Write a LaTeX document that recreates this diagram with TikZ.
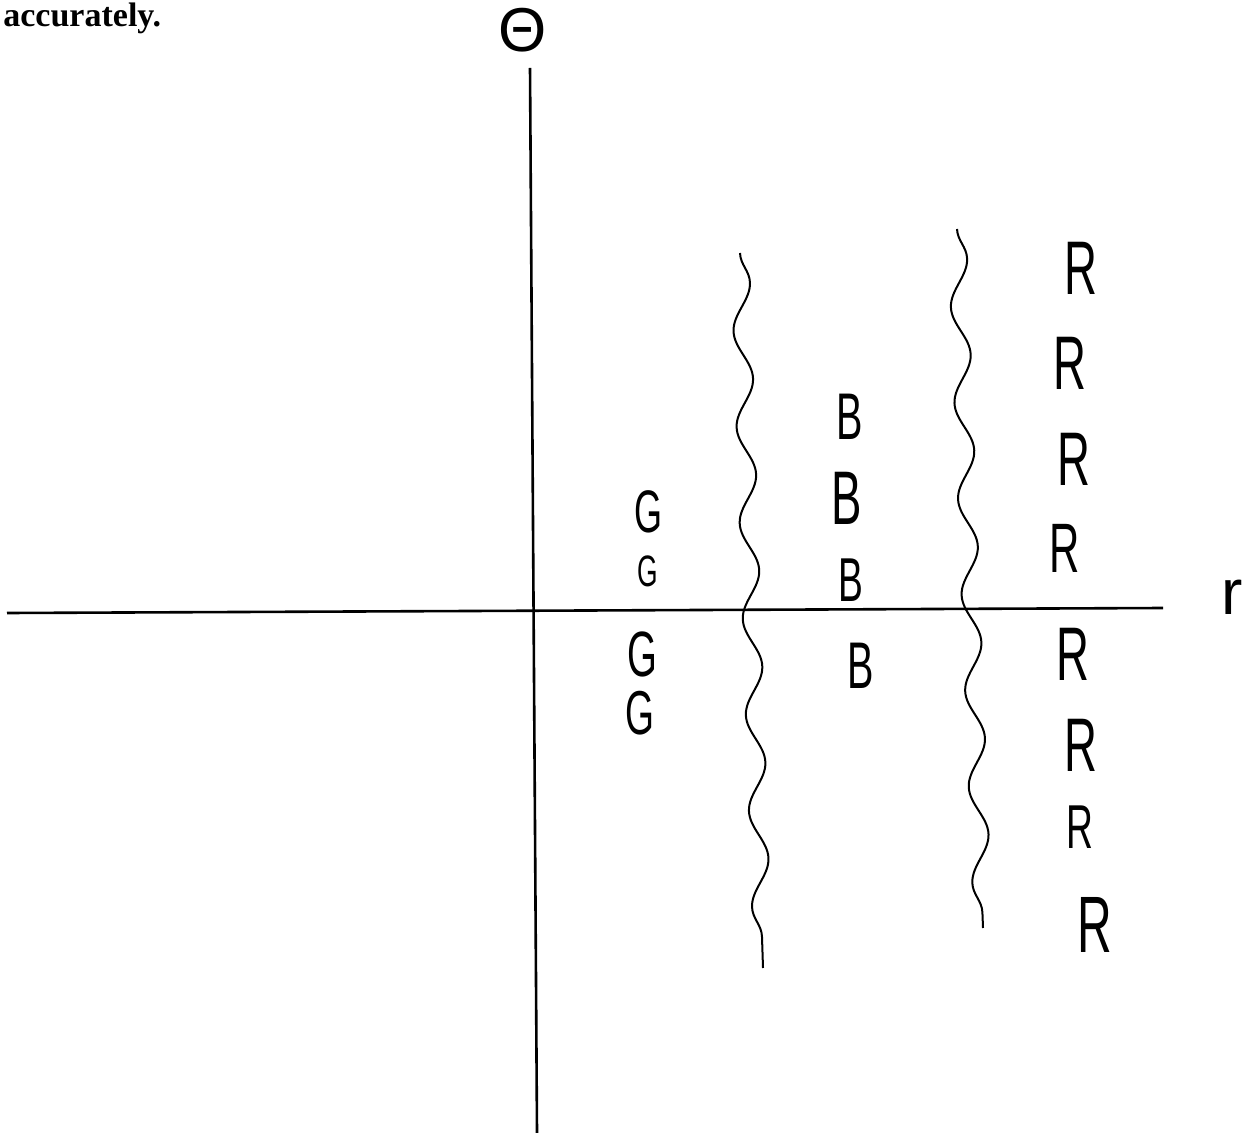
\documentclass[tikz,border=0pt]{standalone}
\usepackage{fontspec}
\setmainfont{Liberation Serif}
\newfontfamily\handfont[FakeStretch=0.6]{Liberation Sans}
\newfontfamily\plainsans{Liberation Sans}
\usetikzlibrary{decorations.pathmorphing}
\tikzset{
  axisline/.style={line width=1.3pt, black},
  wavyline/.style={line width=1pt, black, decorate,
    decoration={snake, segment length=48pt, amplitude=4.5pt}},
  hand/.style={inner sep=0pt, font=\handfont\fontsize{#1}{#1}\selectfont},
  plainlabel/.style={inner sep=0pt, font=\plainsans\fontsize{#1}{#1}\selectfont},
}
\begin{document}
\begin{tikzpicture}[x=0.5pt,y=-0.5pt]
\useasboundingbox (0,0) rectangle (1251,1133);
% heading fragment
\node[anchor=base west, inner sep=0pt, font=\bfseries\fontsize{17}{17}\selectfont] (acc) at (3,27) {accurately.};
% axes
\coordinate (xl) at (7,613);
\coordinate (xr) at (1163,608);
\coordinate (yt) at (530,68);
\coordinate (yb) at (537,1133);
\draw[axisline] (xl) -- (xr);
\draw[axisline] (yt) -- (yb);
\node[plainlabel=31] (theta) at (523,30) {Θ};
\node[plainlabel=32] (rlab) at (1232,597) {r};
% wavy boundaries
\coordinate (w1t) at (740,253);
\coordinate (w1b) at (763,968);
\coordinate (w2t) at (957,229);
\coordinate (w2b) at (983,928);
\draw[wavyline] (w1t) -- (w1b);
\draw[wavyline] (w2t) -- (w2b);
% G column
\node[hand=30] (g1) at (648,512) {G};
\node[hand=22] (g2) at (648,571) {G};
\node[hand=32] (g3) at (642,654) {G};
\node[hand=31] (g4) at (640,713) {G};
% B column
\node[hand=33] (b1) at (850,417) {B};
\node[hand=38] (b2) at (847,498) {B};
\node[hand=31] (b3) at (851,580) {B};
\node[hand=33] (b4) at (861,666) {B};
% R column
\node[hand=38] (r1) at (1081,268) {R};
\node[hand=38] (r2) at (1070,363) {R};
\node[hand=38] (r3) at (1074,459) {R};
\node[hand=35] (r4) at (1065,548) {R};
\node[hand=38] (r5) at (1073,654) {R};
\node[hand=38] (r6) at (1081,745) {R};
\node[hand=31] (r7) at (1080,827) {R};
\node[hand=40] (r8) at (1095,925) {R};
\end{tikzpicture}
\end{document}
